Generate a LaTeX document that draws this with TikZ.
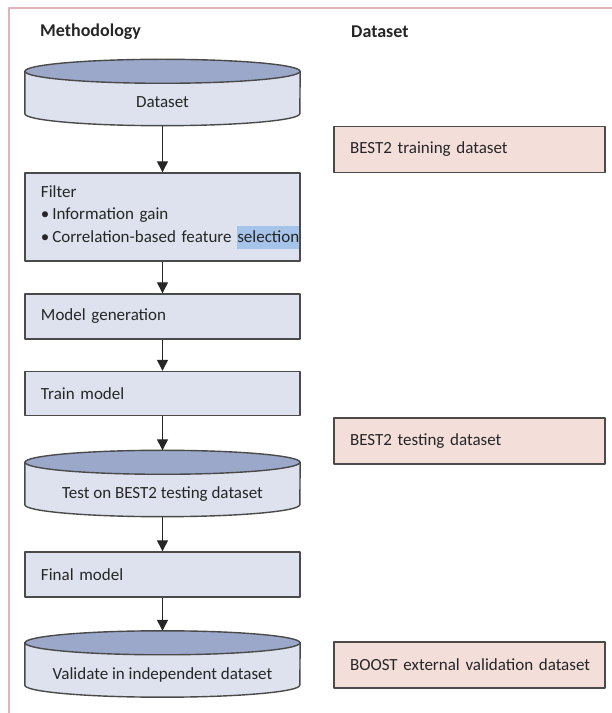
\documentclass[tikz,border=0pt]{standalone}
\usepackage{fontspec}
\setmainfont{Carlito}
\usetikzlibrary{arrows.meta,backgrounds}
\definecolor{ink}{HTML}{262626}
\definecolor{edge}{HTML}{4A4A4A}
\definecolor{stepfill}{HTML}{DDE2EE}
\definecolor{capfill}{HTML}{9BA8C9}
\definecolor{setfill}{HTML}{F3DEDA}
\definecolor{framepink}{HTML}{E2B3BC}
\definecolor{hilite}{HTML}{A6C4EA}
\tikzset{
  every picture/.style={x=1pt, y=1pt, line join=round, >={Triangle[width=11pt,length=11pt]}},
  head/.style={inner sep=0pt, text=ink, font=\bfseries\fontsize{18}{20}\selectfont},
  methbox/.style={draw=edge, line width=1.4pt, fill=stepfill, minimum width=275pt, text width=243pt, inner xsep=16pt, align=left, text=ink, font=\fontsize{17}{22.5}\selectfont},
  setbox/.style={draw=edge, line width=1.4pt, fill=setfill, minimum width=271pt, minimum height=46pt, text width=239pt, inner xsep=16pt, align=left, text=ink, font=\fontsize{17}{22}\selectfont},
  cylnode/.style={minimum width=275pt, minimum height=66pt, inner sep=0pt, text height=30pt, text depth=0pt, text=ink, font=\fontsize{17}{22}\selectfont},
  cylside/.style={draw=edge, line width=1.4pt, fill=stepfill},
  cyltop/.style={draw=edge, line width=1.4pt, fill=capfill},
  flow/.style={->, draw=ink, line width=1.4pt},
}

\begin{document}
\begin{tikzpicture}
\useasboundingbox (0,0) rectangle (612,713);
\draw[framepink,line width=2pt] (9,0) -- (9,705) -- (612,705);
\node[head,anchor=west] (methhead) at (40,681) {Methodology};
\node[head,anchor=west] (sethead) at (351,681) {Dataset};
\node[cylnode] (dataset) at (162.5,620.5) {Dataset};
\node[methbox,minimum height=88pt] (filter) at (162.5,496) {Filter\\\textbullet\,Information gain\\\mbox{\textbullet\,Correlation-based feature {\setlength{\fboxsep}{0pt}\colorbox{hilite}{\strut selection}}}};
\node[methbox,minimum height=45pt] (modelgen) at (162.5,396.5) {Model generation};
\node[methbox,minimum height=44pt] (train) at (162.5,319.5) {Train model};
\node[cylnode] (testcyl) at (162.5,229.5) {Test on BEST2 testing dataset};
\node[methbox,minimum height=45pt] (final) at (162.5,138.5) {Final model};
\node[cylnode] (validcyl) at (162.5,49) {Validate in independent dataset};
\node[setbox] (trainset) at (469.5,563.5) {BEST2 training dataset};
\node[setbox] (testset) at (469.5,272) {BEST2 testing dataset};
\node[setbox] (boostset) at (469.5,48) {\mbox{BOOST external validation dataset}};
\begin{scope}[on background layer]
\foreach \c in {dataset,testcyl,validcyl}{
  \filldraw[cylside] ([yshift=-12pt]\c.north west) -- ([yshift=12pt]\c.south west)
    arc[start angle=180,end angle=360,x radius=137.5pt,y radius=12pt] -- ([yshift=-12pt]\c.north east) -- cycle;
  \filldraw[cyltop] ([yshift=-12pt]\c.north) ellipse[x radius=137.5pt,y radius=12pt];
}
\end{scope}
\draw[flow] (dataset.south) -- (filter.north);
\draw[flow] (filter.south) -- (modelgen.north);
\draw[flow] (modelgen.south) -- (train.north);
\draw[flow] (train.south) -- (testcyl.north);
\draw[flow] (testcyl.south) -- (final.north);
\draw[flow] (final.south) -- (validcyl.north);
\end{tikzpicture}
\end{document}
